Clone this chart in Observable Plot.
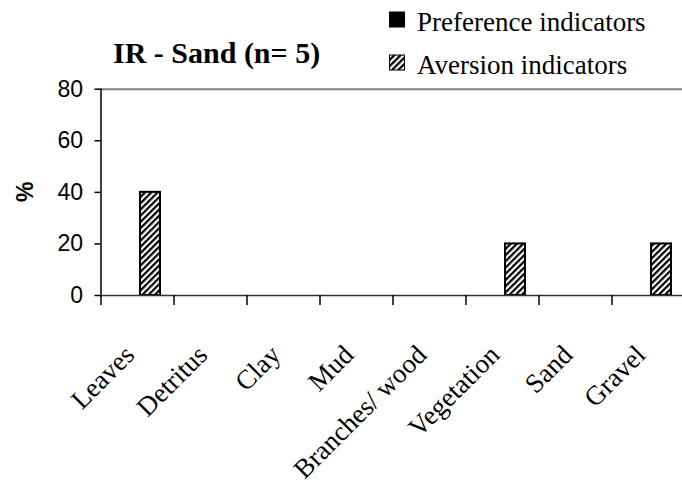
<!DOCTYPE html>
<html><head><meta charset="utf-8">
<script src="https://cdn.jsdelivr.net/npm/d3@7"></script>
<script src="https://cdn.jsdelivr.net/npm/@observablehq/plot@0.6"></script>
<style>body{margin:0;background:#fff}#chart svg{display:block}</style>
</head><body><div id="chart"></div>
<script>
const categories = ["Leaves", "Detritus", "Clay", "Mud", "Branches/ wood", "Vegetation", "Sand", "Gravel"];
const preference = [0, 0, 0, 0, 0, 0, 0, 0];
const aversion = [40, 0, 0, 0, 0, 20, 0, 20];
const yTicks = [0, 20, 40, 60, 80];
const title = "IR - Sand (n= 5)";
const seriesNames = ["Preference indicators", "Aversion indicators"];
const yLabel = "%";

const prefRows = categories.map((c, i) => ({category: c, value: preference[i]}));
const avRows = categories.map((c, i) => ({category: c, value: aversion[i]}));

const serif = "'Liberation Serif', 'Times New Roman', serif";
const sans = "'Liberation Sans', Arial, sans-serif";

function hatchDefs() {
  const defs = d3.create("svg:defs");
  const p = defs.append("pattern").attr("id", "hatch").attr("patternUnits", "userSpaceOnUse")
    .attr("width", 4.4).attr("height", 4.4).attr("patternTransform", "rotate(45)");
  p.append("rect").attr("width", 4.4).attr("height", 4.4).attr("fill", "white");
  p.append("rect").attr("x", 0).attr("width", 2.2).attr("height", 4.4).attr("fill", "black");
  return defs.node();
}

function boundaryTicks(index, scales, values, dim) {
  const x = scales.x;
  const r = x.range();
  const step = x.step();
  const y0 = dim.height - dim.marginBottom;
  const g = d3.create("svg:g").attr("stroke", "black").attr("stroke-width", 1.5);
  for (let k = 0; k <= categories.length; k++) {
    const px = r[0] + k * step;
    g.append("line").attr("x1", px).attr("x2", px).attr("y1", y0).attr("y2", y0 + 10);
  }
  return g.node();
}

function header(index, scales, values, dim) {
  const g = d3.create("svg:g").attr("text-anchor", "start");
  g.append("text").attr("x", 113).attr("y", 63).attr("font-family", serif).attr("font-weight", "bold")
    .attr("font-size", 30).attr("fill", "black").text(title);
  const fills = ["black", "url(#hatch)"];
  seriesNames.forEach((name, i) => {
    const y = 31 + i * 43;
    g.append("rect").attr("x", 389.5).attr("y", y - 19).attr("width", 15).attr("height", 15)
      .attr("fill", fills[i]).attr("stroke", "black").attr("stroke-width", 1);
    g.append("text").attr("x", 417).attr("y", y).attr("font-family", serif).attr("font-size", 27)
      .attr("fill", "black").text(name);
  });
  g.append("text").attr("transform", `translate(33,${(dim.marginTop + dim.height - dim.marginBottom) / 2}) rotate(-90)`)
    .attr("text-anchor", "middle").attr("font-family", sans).attr("font-weight", "bold")
    .attr("font-size", 23).attr("fill", "black").text(yLabel);
  return g.node();
}

const chart = Plot.plot({
  width: 682,
  height: 487,
  marginLeft: 100.5,
  marginRight: 0,
  marginTop: 88.7,
  marginBottom: 192,
  style: {background: "white", overflow: "hidden"},
  x: {type: "band", domain: categories, range: [101, 686.1], padding: 0, axis: null},
  y: {domain: [0, 80]},
  marks: [
    hatchDefs,
    Plot.ruleY([80], {stroke: "#808080", strokeWidth: 2}),
    Plot.barY(prefRows, {x: "category", y: "value", fill: "black", insetLeft: 16, insetRight: 37, filter: d => d.value > 0}),
    Plot.barY(avRows, {x: "category", y: "value", fill: "url(#hatch)", stroke: "black", strokeWidth: 2, insetLeft: 38, insetRight: 15, filter: d => d.value > 0}),
    Plot.frame({anchor: "bottom", stroke: "#333", strokeWidth: 1.5}),
    Plot.frame({anchor: "left", stroke: "black", strokeWidth: 1.5}),
    Plot.axisY(yTicks, {tickSize: 6, tickPadding: 12, fontSize: 23, fontFamily: sans, label: null, stroke: "black", strokeWidth: 1.5}),
    boundaryTicks,
    Plot.text(categories, {x: d => d, frameAnchor: "bottom", rotate: -45, textAnchor: "end", lineAnchor: "bottom",
      dx: -3, dy: 61, fontSize: 27, fontFamily: serif, fill: "black"}),
    header
  ]
});
document.getElementById("chart").append(chart);
</script>
</body></html>
